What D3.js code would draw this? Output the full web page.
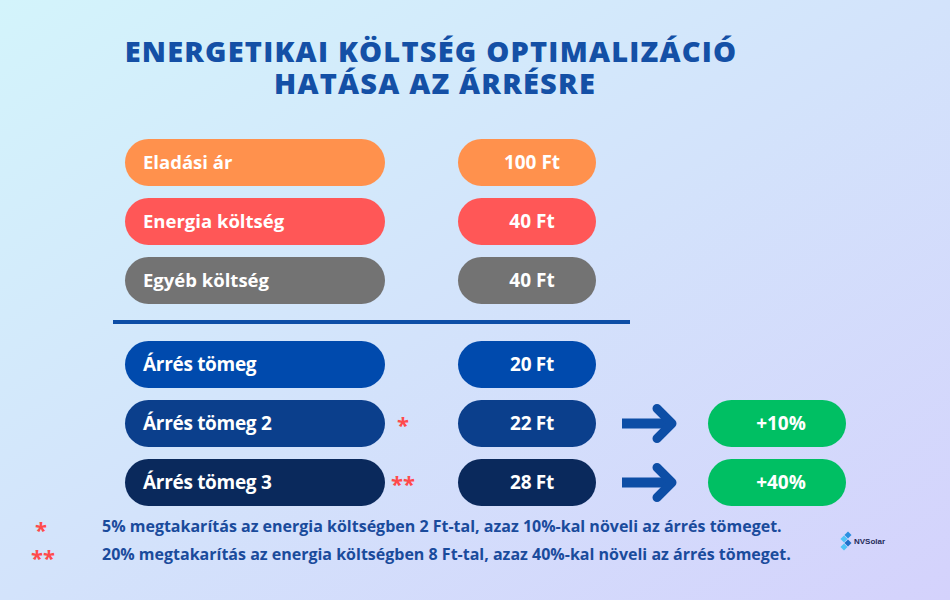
<!DOCTYPE html>
<html><head><meta charset="utf-8">
<script src="https://cdn.jsdelivr.net/npm/d3@7"></script>
<style>html,body{margin:0;padding:0;overflow:hidden}svg{display:block}</style>
</head><body>
<svg id="c" width="950" height="600"></svg>
<script>
// ---- data ----
const titleLines = ["ENERGETIKAI KÖLTSÉG OPTIMALIZÁCIÓ", "HATÁSA AZ ÁRRÉSRE"];
const labels = ["Eladási ár", "Energia költség", "Egyéb költség", "Árrés tömeg", "Árrés tömeg 2", "Árrés tömeg 3"];
const values = [100, 40, 40, 20, 22, 28];
const changes = [null, null, null, null, 10, 40];
const marks = ["", "", "", "", "*", "**"];
const groups = [0, 0, 0, 1, 1, 1];
const unit = "Ft";
const footnoteMarks = ["*", "**"];
const footnotes = [
  "5% megtakarítás az energia költségben 2 Ft-tal, azaz 10%-kal növeli az árrés tömeget.",
  "20% megtakarítás az energia költségben 8 Ft-tal, azaz 40%-kal növeli az árrés tömeget."
];
const brand = "NVSolar";

// ---- styles ----
const fills = ["#ff914d", "#ff5757", "#737373", "#004aad", "#0b3f8c", "#0a295c"];
const green = "#00bf63";
const navy = "#0d4ea6";
const font = "'Open Sans', sans-serif";

const svg = d3.select("#c");
const defs = svg.append("defs");
const bg = defs.append("linearGradient").attr("id", "bg").attr("x1", 0).attr("y1", 0).attr("x2", 1).attr("y2", 1);
bg.append("stop").attr("offset", "0%").attr("stop-color", "#d3f4fb");
bg.append("stop").attr("offset", "50%").attr("stop-color", "#d3e3fb");
bg.append("stop").attr("offset", "100%").attr("stop-color", "#d4d2fc");
svg.append("rect").attr("width", 950).attr("height", 600).attr("fill", "url(#bg)");

// title
svg.append("g").selectAll("text").data(titleLines).join("text")
  .attr("x", (d, i) => i ? 435 : 431).attr("y", (d, i) => 62 + i * 32)
  .attr("text-anchor", "middle")
  .attr("font-family", font).attr("font-weight", 800)
  .attr("font-size", 29).attr("letter-spacing", 1.2).attr("fill", "#1450a6")
  .text(d => d);

// scales
const idx = d3.range(labels.length);
const rowStep = d3.scaleLinear().domain([0, 1]).range([0, 59]);
const groupGap = 25;
const yc = i => 162.5 + rowStep(i) + groups[i] * groupGap;
const colX = d3.scaleOrdinal().domain(["label", "value", "arrow", "change"]).range([125, 458, 622, 708]);
const colW = d3.scaleOrdinal().domain(["label", "value", "arrow", "change"]).range([260, 138, 54, 138]);
const h = 47;

const rows = svg.append("g").selectAll("g").data(idx).join("g");

// label pills
rows.append("rect")
  .attr("x", colX("label")).attr("y", i => yc(i) - h / 2)
  .attr("width", colW("label")).attr("height", h).attr("rx", h / 2)
  .attr("fill", i => fills[i]);
rows.append("text")
  .attr("x", 143).attr("y", yc).attr("dy", "0.35em")
  .attr("font-family", font)
  .attr("font-weight", 700).attr("font-size", i => groups[i] ? 19 : 18.5)
  .attr("letter-spacing", i => groups[i] ? -0.3 : 0)
  .attr("fill", "#fff").text(i => labels[i]);

// value pills
rows.append("rect")
  .attr("x", colX("value")).attr("y", i => yc(i) - h / 2)
  .attr("width", colW("value")).attr("height", h).attr("rx", h / 2)
  .attr("fill", i => fills[i]);
rows.append("text")
  .attr("x", colX("value") + colW("value") / 2 + 5).attr("y", yc).attr("dy", "0.35em")
  .attr("text-anchor", "middle")
  .attr("font-family", font)
  .attr("font-weight", 700).attr("font-size", 19)
  .attr("letter-spacing", i => groups[i] ? -0.3 : 0)
  .attr("fill", "#fff").text(i => `${values[i]} ${unit}`);

// marks
rows.filter(i => marks[i]).append("text")
  .attr("x", 403).attr("y", i => yc(i) + 9)
  .attr("text-anchor", "middle")
  .attr("font-family", font).attr("font-weight", 700).attr("font-size", 22)
  .attr("fill", "#ff4b4b").text(i => marks[i]);

// arrows and change pills
const ch = rows.filter(i => changes[i] != null);
ch.append("line")
  .attr("x1", colX("arrow")).attr("x2", colX("arrow") + colW("arrow") - 6)
  .attr("y1", yc).attr("y2", yc)
  .attr("stroke", navy).attr("stroke-width", 10);
ch.append("path")
  .attr("d", i => {
    const x = colX("arrow") + colW("arrow") - 4, y = yc(i);
    return `M${x - 15},${y - 15}L${x},${y}L${x - 15},${y + 15}`;
  })
  .attr("fill", "none").attr("stroke", navy).attr("stroke-width", 9)
  .attr("stroke-linecap", "round").attr("stroke-linejoin", "round");
ch.append("rect")
  .attr("x", colX("change")).attr("y", i => yc(i) - h / 2)
  .attr("width", colW("change")).attr("height", h).attr("rx", h / 2)
  .attr("fill", green);
ch.append("text")
  .attr("x", colX("change") + colW("change") / 2 + 4).attr("y", yc).attr("dy", "0.35em")
  .attr("text-anchor", "middle")
  .attr("font-family", font).attr("font-weight", 700).attr("font-size", 19)
  .attr("fill", "#fff").text(i => `+${changes[i]}%`);

// separator
svg.append("rect").attr("x", 113).attr("y", 320).attr("width", 517).attr("height", 4).attr("fill", navy);

// footnotes
const fn = svg.append("g").selectAll("g").data(footnotes).join("g");
fn.append("text")
  .attr("x", (d, i) => i ? 31 : 35).attr("y", (d, i) => 538 + i * 28)
  .attr("font-family", font).attr("font-weight", 700).attr("font-size", 22)
  .attr("fill", "#ff4b4b").text((d, i) => footnoteMarks[i]);
fn.append("text")
  .attr("x", 102).attr("y", (d, i) => 532 + i * 28)
  .attr("font-family", font).attr("font-weight", 700).attr("font-size", 16)
  .attr("fill", "#1a4b9c").text(d => d);

// brand logo
const logo = svg.append("g").attr("transform", "translate(848,541)");
[[0, -6, "#2a8fe0"], [-4, -2, "#4fc3f7"], [0, 2, "#1e6fc9"], [-4, 6, "#4fc3f7"]].forEach(([x, y, c]) => {
  logo.append("rect").attr("x", x - 2.5).attr("y", y - 2.5).attr("width", 5).attr("height", 5)
    .attr("transform", `rotate(45,${x},${y})`).attr("fill", c);
});
logo.append("text").attr("x", 6).attr("y", 3).attr("font-family", "'Liberation Sans', sans-serif")
  .attr("font-weight", 700).attr("font-size", 8).attr("fill", "#1f2a5a").text(brand);
</script>
</body></html>
